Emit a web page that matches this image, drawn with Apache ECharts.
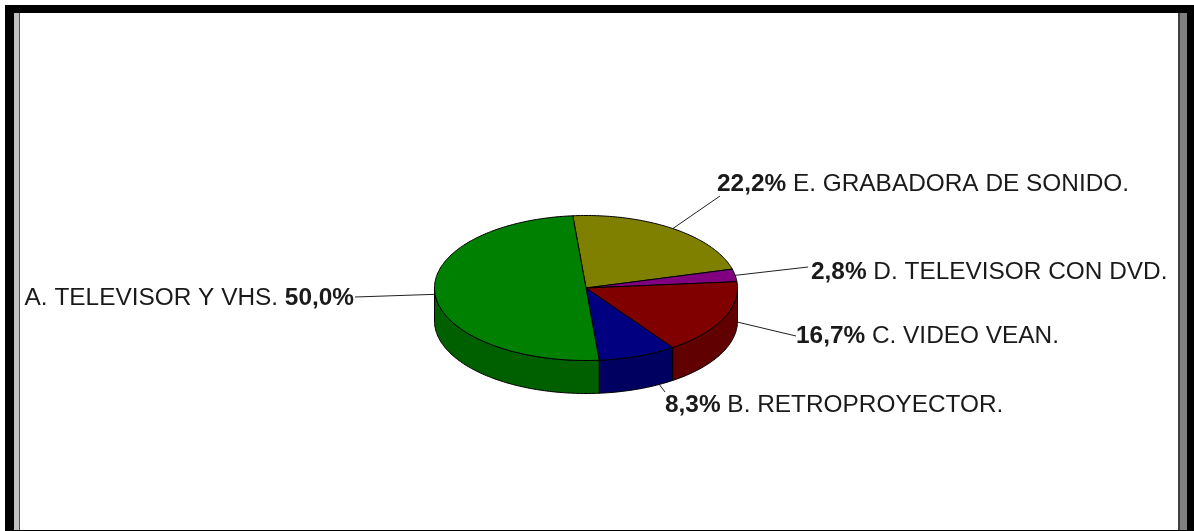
<!DOCTYPE html>
<html><head><meta charset="utf-8">
<style>html,body{margin:0;padding:0;background:#fff}#c{width:1194px;height:531px}</style>
<script src="https://cdn.jsdelivr.net/npm/echarts@6/dist/echarts.min.js"></script>
</head><body><div id="c"></div>
<script>
// data, clockwise from the first slice
const categories = ['E. GRABADORA DE SONIDO.','D. TELEVISOR CON DVD.','C. VIDEO VEAN.','B. RETROPROYECTOR.','A. TELEVISOR Y VHS.'];
const percentLabels = ['22,2%','2,8%','16,7%','8,3%','50,0%'];
const values = [22.2,2.8,16.7,8.3,50.0];
// styles
const topColors = ['#808000','#800080','#800000','#000080','#008000'];
const sideColors = ['#606000','#600060','#600000','#000060','#006000'];
// layout (pixels)
const pie = {cx:586,cy:288,rx:151.5,ry:72.5,depth:33,start:-5};
const leaderEnds = [[720,196],[808,267],[796,336],[665,392],[355,297]];
const labelAnchors = [[717,184,'left'],[811,272,'left'],[796,336,'left'],[665,405,'left'],[354,298,'right']];
const FONT = '"Liberation Sans", Arial, sans-serif';
const FONT_SIZE = 24.4;
const TEXT = '#1a1a1a';

const total = values.reduce((a,b)=>a+b,0);
const spans = []; let acc = pie.start;
values.forEach(v=>{const s=acc; acc+=v/total*360; spans.push([s,acc]);});
const pt=(deg,dy=0)=>{const r=deg*Math.PI/180;return [pie.cx+pie.rx*Math.sin(r),pie.cy-pie.ry*Math.cos(r)+dy];};
const arc=(a,b,dy=0)=>{const n=Math.max(2,Math.ceil(Math.abs(b-a)));const o=[];for(let i=0;i<=n;i++)o.push(pt(a+(b-a)*i/n,dy));return o;};

function renderBody(params,api){
  const i=params.dataIndex,[a,b]=spans[i],kids=[];
  const lo=Math.max(a,90),hi=Math.min(b,270);
  if(hi>lo){
    kids.push({type:'polygon',shape:{points:arc(lo,hi,0).concat(arc(hi,lo,pie.depth))},
      style:{fill:sideColors[i],stroke:'#000',lineWidth:1}});
  }
  return {type:'group',children:kids.concat([{type:'polygon',shape:{points:[[pie.cx,pie.cy]].concat(arc(a,b))},
    style:{fill:topColors[i],stroke:'#000',lineWidth:1}}])};
}
function renderLabel(params,api){
  const i=params.dataIndex,[a,b]=spans[i],s=pt((a+b)/2),e=leaderEnds[i],l=labelAnchors[i];
  const pct='{b|'+percentLabels[i]+'}',cat='{n|'+categories[i]+'}';
  return {type:'group',children:[
    {type:'line',shape:{x1:s[0],y1:s[1],x2:e[0],y2:e[1]},style:{stroke:'#222',lineWidth:1}},
    {type:'text',style:{x:l[0],y:l[1],align:l[2],verticalAlign:'middle',
      text:i===4?cat+'{n| }'+pct:pct+'{n| }'+cat,
      rich:{b:{fontFamily:FONT,fontSize:FONT_SIZE,fontWeight:'bold',fill:TEXT},n:{fontFamily:FONT,fontSize:FONT_SIZE,fill:TEXT}}}}
  ]};
}
const rect=(x,y,width,height,fill)=>({type:'rect',shape:{x,y,width,height},style:{fill},silent:true,z:100});
const chart=echarts.init(document.getElementById('c'),null,{renderer:'canvas'});
chart.setOption({
  animation:false,backgroundColor:'#fff',
  graphic:[
    rect(5,5,1189,8,'#000'),rect(5,5,9,526,'#000'),rect(1187,5,7,526,'#000'),rect(5,530,1189,1,'#000'),
    rect(14,13,5,517,'#c0c0c0'),rect(19,13,1,517,'#505050'),
    rect(1180,13,7,517,'#808080'),rect(1178,13,2,517,'#404040')
  ],
  series:[
    {type:'custom',coordinateSystem:'none',z:1,data:values,renderItem:renderLabel,silent:true},
    {type:'custom',coordinateSystem:'none',z:2,data:values,renderItem:renderBody,silent:true}
  ]
});
</script></body></html>
